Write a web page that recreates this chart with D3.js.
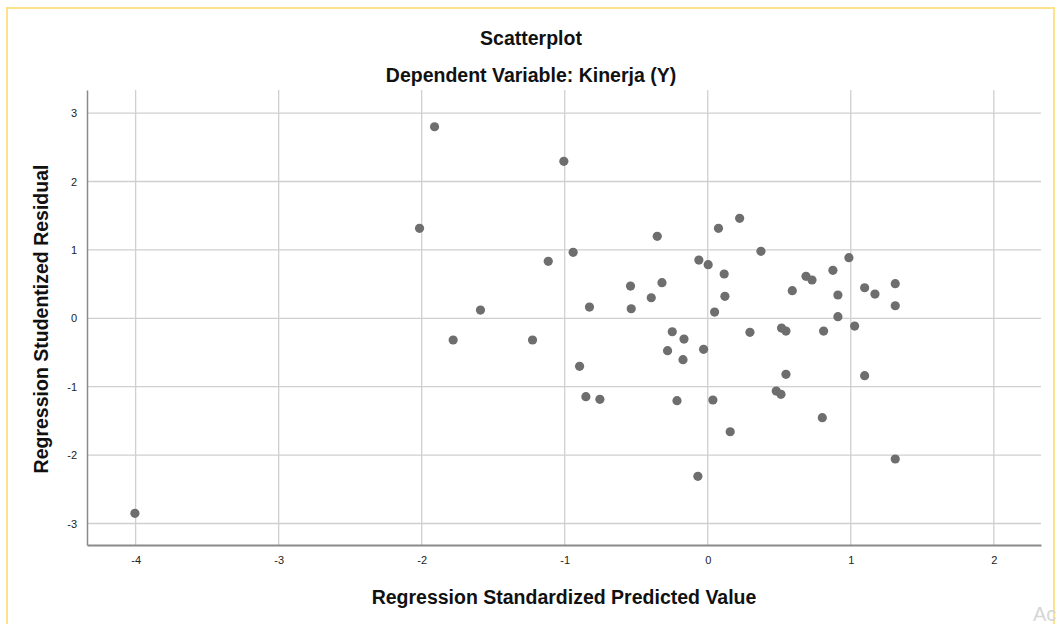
<!DOCTYPE html>
<html><head><meta charset="utf-8">
<script src="https://cdn.jsdelivr.net/npm/d3@7"></script>
<style>
body{margin:0;background:#fff;}
svg{display:block;font-family:"Liberation Sans",Arial,sans-serif;}
</style></head>
<body><svg id="c" width="1062" height="624"></svg>
<script>
const predicted = [-4.005,-2.015,-1.910,-1.780,-1.589,-1.225,-1.115,-1.006,-0.941,-0.896,-0.852,-0.827,-0.754,-0.540,-0.535,-0.395,-0.353,-0.320,-0.281,-0.248,-0.215,-0.173,-0.166,-0.069,-0.062,-0.029,0.003,0.036,0.048,0.075,0.115,0.120,0.157,0.223,0.295,0.372,0.479,0.512,0.516,0.547,0.547,0.591,0.687,0.729,0.801,0.810,0.875,0.910,0.910,0.987,1.027,1.097,1.097,1.169,1.311,1.311,1.311];
const residual = [-2.851,1.316,2.801,-0.317,0.121,-0.317,0.833,2.295,0.965,-0.702,-1.146,0.165,-1.184,0.472,0.140,0.301,1.199,0.521,-0.473,-0.196,-1.204,-0.605,-0.303,-2.310,0.852,-0.453,0.784,-1.194,0.092,1.316,0.648,0.322,-1.658,1.462,-0.205,0.979,-1.063,-1.111,-0.142,-0.186,-0.819,0.404,0.614,0.560,-1.453,-0.186,0.702,0.341,0.024,0.886,-0.113,0.447,-0.839,0.355,0.506,0.184,-2.057];
const xTicks = [-4,-3,-2,-1,0,1,2];
const yTicks = [-3,-2,-1,0,1,2,3];
const titleText = "Scatterplot";
const subtitleText = "Dependent Variable: Kinerja (Y)";
const xLabel = "Regression Standardized Predicted Value";
const yLabel = "Regression Studentized Residual";

const svg = d3.select("#c");
const L=87, R=1041, T=90, B=545;
const x = d3.scaleLinear().domain([-4.34,2.33]).range([L,R]);
const y = d3.scaleLinear().domain([-3.314,3.338]).range([B,T]);
const fmt = d => String(d);

// frame
svg.append("rect").attr("x",7).attr("y",8).attr("width",1047).attr("height",620)
  .attr("fill","none").attr("stroke","#fce38a").attr("stroke-width",2);

// grid
svg.append("g").selectAll("line").data(xTicks).join("line")
  .attr("x1",d=>x(d)).attr("x2",d=>x(d)).attr("y1",T).attr("y2",B)
  .attr("stroke","#cfcfcf").attr("stroke-width",1.3);
svg.append("g").selectAll("line").data(yTicks).join("line")
  .attr("x1",L).attr("x2",R).attr("y1",d=>y(d)).attr("y2",d=>y(d))
  .attr("stroke","#cfcfcf").attr("stroke-width",1.3);

// axes
const xAxis = svg.append("g").attr("transform",`translate(0,${B})`)
  .call(d3.axisBottom(x).tickValues(xTicks).tickSize(0).tickPadding(11).tickFormat(fmt));
xAxis.select(".domain").attr("stroke","#8a8a8a").attr("stroke-width",2);
xAxis.selectAll("text").attr("font-size",11).attr("fill","#222").attr("font-family","Liberation Sans, Arial, sans-serif");
const yAxis = svg.append("g").attr("transform",`translate(${L},0)`)
  .call(d3.axisLeft(y).tickValues(yTicks).tickSize(0).tickPadding(10).tickFormat(fmt));
yAxis.select(".domain").attr("stroke","#8a8a8a").attr("stroke-width",1.5);
yAxis.selectAll("text").attr("font-size",11).attr("fill","#222").attr("font-family","Liberation Sans, Arial, sans-serif");

// points
svg.append("g").selectAll("circle").data(predicted.map((p,i)=>[p,residual[i]])).join("circle")
  .attr("cx",d=>x(d[0])).attr("cy",d=>y(d[1])).attr("r",4.6).attr("fill","#6e6e6e");

// titles
svg.append("text").attr("x",531).attr("y",45).attr("text-anchor","middle")
  .attr("font-size",19.5).attr("font-weight","bold").attr("fill","#111").text(titleText);
svg.append("text").attr("x",531).attr("y",82).attr("text-anchor","middle")
  .attr("font-size",19.5).attr("font-weight","bold").attr("fill","#111").text(subtitleText);
svg.append("text").attr("x",564).attr("y",604).attr("text-anchor","middle")
  .attr("font-size",19.5).attr("font-weight","bold").attr("fill","#111").text(xLabel);
svg.append("text").attr("transform","translate(48,319) rotate(-90)").attr("text-anchor","middle")
  .attr("font-size",19.5).attr("font-weight","bold").attr("fill","#111").text(yLabel);
svg.append("text").attr("x",1033).attr("y",621).attr("font-size",20).attr("fill","#d6d6d6").text("Ac");
</script></body></html>
